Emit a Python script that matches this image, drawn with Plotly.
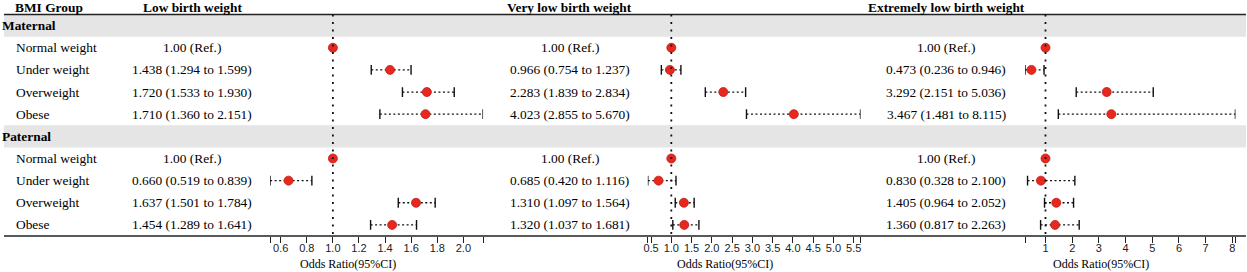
import plotly.graph_objects as go

W, H = 1247, 272

# ---------------- data ----------------
bmi_groups = ["Normal weight", "Under weight", "Overweight", "Obese"]
parents = ["Maternal", "Paternal"]
outcomes = ["Low birth weight", "Very low birth weight", "Extremely low birth weight"]

lbw_mat_or = [1.0, 1.438, 1.720, 1.710]
lbw_mat_lo = [1.0, 1.294, 1.533, 1.360]
lbw_mat_hi = [1.0, 1.599, 1.930, 2.151]
lbw_pat_or = [1.0, 0.660, 1.637, 1.454]
lbw_pat_lo = [1.0, 0.519, 1.501, 1.289]
lbw_pat_hi = [1.0, 0.839, 1.784, 1.641]

vlbw_mat_or = [1.0, 0.966, 2.283, 4.023]
vlbw_mat_lo = [1.0, 0.754, 1.839, 2.855]
vlbw_mat_hi = [1.0, 1.237, 2.834, 5.670]
vlbw_pat_or = [1.0, 0.685, 1.310, 1.320]
vlbw_pat_lo = [1.0, 0.420, 1.097, 1.037]
vlbw_pat_hi = [1.0, 1.116, 1.564, 1.681]

elbw_mat_or = [1.0, 0.473, 3.292, 3.467]
elbw_mat_lo = [1.0, 0.236, 2.151, 1.481]
elbw_mat_hi = [1.0, 0.946, 5.036, 8.115]
elbw_pat_or = [1.0, 0.830, 1.405, 1.360]
elbw_pat_lo = [1.0, 0.328, 0.964, 0.817]
elbw_pat_hi = [1.0, 2.100, 2.052, 2.263]

lbw_ticks = [0.6, 0.8, 1.0, 1.2, 1.4, 1.6, 1.8, 2.0]
lbw_ticktext = ["0.6", "0.8", "1.0", "1.2", "1.4", "1.6", "1.8", "2.0"]
vlbw_ticks = [0.5, 1.0, 1.5, 2.0, 2.5, 3.0, 3.5, 4.0, 4.5, 5.0, 5.5]
vlbw_ticktext = ["0.5", "1.0", "1.5", "2.0", "2.5", "3.0", "3.5", "4.0", "4.5", "5.0", "5.5"]
elbw_ticks = [1, 2, 3, 4, 5, 6, 7, 8]
elbw_ticktext = ["1", "2", "3", "4", "5", "6", "7", "8"]

ref_text = "1.00 (Ref.)"
axis_title = "Odds Ratio(95%CI)"
group_header = "BMI Group"

# ---------------- layout constants (pixels) ----------------
SERIF = "Liberation Serif, Times New Roman, serif"
SANS = "Liberation Sans, Arial, sans-serif"
TOP = 14.5
PITCH = 22.15
PLOT_DOMAINS = [(267.2, 481.0), (646.4, 860.0), (1025.2, 1236.4)]
TEXT_CENTERS = [189, 568, 946]
RED = "#E8281E"
FS = 13.4

def row_y(i):
    return TOP + PITCH * (i + 0.5)

N_ROWS = 10
BOTTOM = TOP + PITCH * N_ROWS

data_sets = [
    ((lbw_mat_or, lbw_mat_lo, lbw_mat_hi), (lbw_pat_or, lbw_pat_lo, lbw_pat_hi), lbw_ticks, lbw_ticktext),
    ((vlbw_mat_or, vlbw_mat_lo, vlbw_mat_hi), (vlbw_pat_or, vlbw_pat_lo, vlbw_pat_hi), vlbw_ticks, vlbw_ticktext),
    ((elbw_mat_or, elbw_mat_lo, elbw_mat_hi), (elbw_pat_or, elbw_pat_lo, elbw_pat_hi), elbw_ticks, elbw_ticktext),
]

fig = go.Figure()
annotations = []
shapes = []

# gray section bands and header / bottom rules
for p_idx in range(len(parents)):
    r = p_idx * (len(bmi_groups) + 1)
    shapes.append(dict(type="rect", xref="paper", yref="y", x0=0, x1=1,
                       y0=TOP + PITCH * r, y1=TOP + PITCH * (r + 1),
                       fillcolor="#E5E5E5", line=dict(width=0), layer="below"))
shapes.append(dict(type="line", xref="paper", yref="y", x0=0, x1=1, y0=TOP, y1=TOP,
                   line=dict(color="#222222", width=1.6)))
shapes.append(dict(type="line", xref="paper", yref="y", x0=0, x1=1, y0=BOTTOM, y1=BOTTOM,
                   line=dict(color="#222222", width=1.6)))

def ann(x, y, text, size=FS, bold=False, anchor="left", xref="x", font=SERIF, xshift=0):
    annotations.append(dict(x=x, y=y, xref=xref, yref="y", text=f"<b>{text}</b>" if bold else text,
                            showarrow=False, xanchor=anchor, yanchor="middle", xshift=xshift,
                            font=dict(family=font, size=size, color="black")))

# headers
ann(9, 7, group_header, bold=True)
for k, o in enumerate(outcomes):
    ann(TEXT_CENTERS[k], 7, o, bold=True, anchor="center")

# row labels
for p_idx, p in enumerate(parents):
    r0 = p_idx * (len(bmi_groups) + 1)
    ann(0, row_y(r0), p, bold=True, xshift=-4)
    for g_idx, g in enumerate(bmi_groups):
        ann(10, row_y(r0 + 1 + g_idx), g)

# forest panels
for k, (mat, pat, tv, tt) in enumerate(data_sets):
    axname = "x" + str(k + 2)
    lo_all = mat[1] + pat[1]
    hi_all = mat[2] + pat[2]
    xmin, xmax = min(lo_all), max(hi_all)
    d0, d1 = PLOT_DOMAINS[k]
    fig.layout[("xaxis" + str(k + 2))] = dict(
        domain=[d0 / W, d1 / W], range=[xmin, xmax], anchor="free",
        position=1 - BOTTOM / H, showgrid=False, zeroline=False, showline=False,
        ticks="outside", ticklen=6, tickwidth=1.3, tickcolor="#222222",
        ticklabelstandoff=-4,
        tickvals=[xmin] + tv + [xmax], ticktext=[""] + tt + [""],
        tickfont=dict(family=SANS, size=11, color="#222222"), fixedrange=True)
    # reference line
    shapes.append(dict(type="line", xref=axname, yref="y", x0=1, x1=1, y0=TOP, y1=BOTTOM,
                       line=dict(color="#111111", width=1.8, dash="2px,5.5px"), layer="above"))
    # axis title
    annotations.append(dict(x=((d0 + d1) / 2 - 29) / W, y=264, xref="paper", yref="y",
                            text=axis_title, showarrow=False, xanchor="center", yanchor="middle",
                            font=dict(family=SERIF, size=12, color="black")))
    for p_idx, (orv, lov, hiv) in enumerate([mat, pat]):
        r0 = p_idx * (len(bmi_groups) + 1)
        for g_idx in range(len(bmi_groups)):
            y = row_y(r0 + 1 + g_idx)
            o, lo, hi = orv[g_idx], lov[g_idx], hiv[g_idx]
            if g_idx == 0:
                txt = ref_text
            else:
                txt = f"{o:.3f} ({lo:.3f} to {hi:.3f})"
            ann(TEXT_CENTERS[k], y, txt, anchor="center")
            if lo != hi:
                fig.add_trace(go.Scatter(x=[lo, hi], y=[y, y], xaxis=axname, yaxis="y",
                                         mode="lines", line=dict(color="#111111", width=1.3, dash="2px,2.5px"),
                                         hoverinfo="skip", showlegend=False))
                fig.add_trace(go.Scatter(x=[lo, hi], y=[y, y], xaxis=axname, yaxis="y",
                                         mode="markers",
                                         marker=dict(symbol="line-ns", size=7,
                                                     line=dict(color="#111111", width=1.4)),
                                         hoverinfo="skip", showlegend=False))
            fig.add_trace(go.Scatter(x=[o], y=[y], xaxis=axname, yaxis="y", mode="markers",
                                     marker=dict(color=RED, size=9, line=dict(color="#C01E14", width=0.8)),
                                     hoverinfo="skip", showlegend=False))

fig.update_layout(
    width=W, height=H, margin=dict(l=0, r=0, t=0, b=0),
    paper_bgcolor="white", plot_bgcolor="rgba(0,0,0,0)",
    xaxis=dict(domain=[0, 1], range=[0, W], visible=False, fixedrange=True),
    yaxis=dict(domain=[0, 1], range=[H, 0], visible=False, fixedrange=True),
    shapes=shapes, annotations=annotations, showlegend=False,
)

fig.write_html("out.html", config={"displayModeBar": False},
               post_script="document.body.style.margin='0px';document.body.style.overflow='hidden';")
